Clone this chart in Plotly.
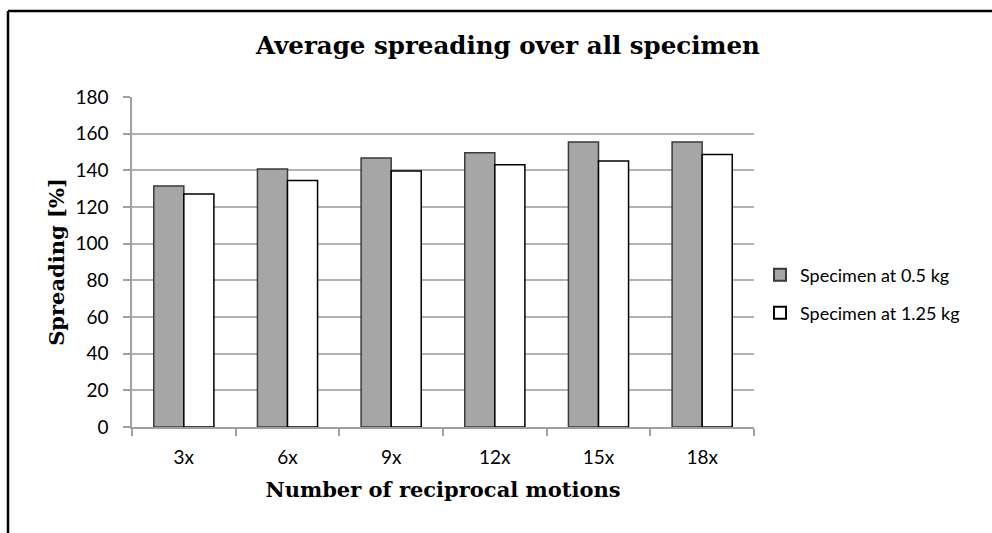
import plotly.graph_objects as go

categories = ["3x", "6x", "9x", "12x", "15x", "18x"]
spec_05 = [131.4, 140.7, 146.7, 149.6, 155.4, 155.4]
spec_125 = [127.1, 134.5, 139.6, 143.1, 145.1, 148.6]
y_ticks = [0, 20, 40, 60, 80, 100, 120, 140, 160, 180]

W, H = 992, 533
L, R, T, B = 132, 754, 97, 427

fig = go.Figure()
fig.add_trace(go.Bar(x=categories, y=spec_05, name="Specimen at 0.5 kg", legend="legend",
                     marker=dict(color="#A6A6A6", line=dict(color="#3a3a3a", width=1.5))))
fig.add_trace(go.Bar(x=categories, y=spec_125, name="Specimen at 1.25 kg", legend="legend2",
                     marker=dict(color="#FFFFFF", line=dict(color="#000000", width=1.5))))

def px(x):
    return (x - L) / (R - L)

def py(y):
    return (B - y) / (B - T)

leg_font = dict(family="Lato", size=18, color="#000")

fig.update_layout(
    width=W, height=H,
    margin=dict(l=L, r=W - R, t=T, b=H - B),
    paper_bgcolor="white", plot_bgcolor="white",
    barmode="group", bargap=0.42, bargroupgap=0,
    title=dict(text="<b>Average spreading over all specimen</b>", x=(508) / W, xanchor="center",
               y=1 - 45 / H, yanchor="middle",
               font=dict(family="DejaVu Serif", size=24.5, color="#000")),
    font=dict(family="Lato", color="#000"),
    xaxis=dict(tickson="boundaries", ticks="outside", ticklen=7, tickcolor="#A0A0A0", tickwidth=1.5,
               showline=True, linecolor="#A0A0A0", linewidth=1.5, showgrid=False,
               ticklabelstandoff=12,
               tickfont=dict(family="Lato", size=19, color="#000"),
               title=dict(text="<b>Number of reciprocal motions</b>", standoff=16,
                          font=dict(family="DejaVu Serif", size=21, color="#000"))),
    yaxis=dict(range=[0, 180], tickvals=y_ticks, ticks="outside", ticklen=7, tickcolor="#A0A0A0",
               tickwidth=1.5, showline=True, linecolor="#A0A0A0", linewidth=1.5,
               showgrid=True, gridcolor="#B3B3B3", gridwidth=1.5, zeroline=False,
               ticklabelstandoff=11,
               tickfont=dict(family="Lato", size=19, color="#000"),
               title=dict(text="<b>Spreading [%]</b>", standoff=5,
                          font=dict(family="DejaVu Serif", size=21, color="#000"))),
    legend=dict(x=px(760), y=py(275), xanchor="left", yanchor="middle",
                font=leg_font, itemsizing="constant", bgcolor="rgba(0,0,0,0)"),
    legend2=dict(x=px(760), y=py(313), xanchor="left", yanchor="middle",
                 font=leg_font, itemsizing="constant", bgcolor="rgba(0,0,0,0)"),
    showlegend=True,
)

fig.add_shape(type="line", xref="paper", yref="paper", x0=px(8), x1=px(995), y0=py(11), y1=py(11),
              line=dict(color="black", width=2.5))
fig.add_shape(type="line", xref="paper", yref="paper", x0=px(8), x1=px(8), y0=py(11), y1=py(540),
              line=dict(color="black", width=2.5))

fig.write_html("out.html")
